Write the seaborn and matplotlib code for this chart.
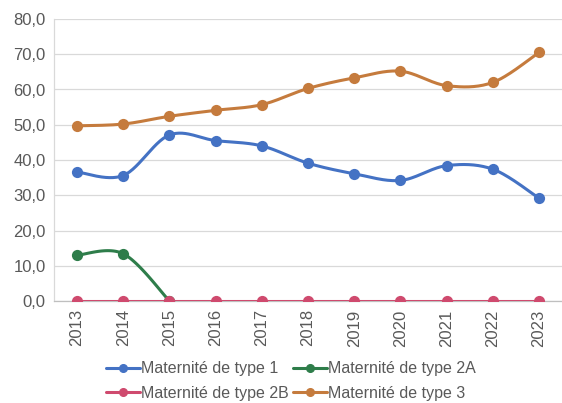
import numpy as np
import pandas as pd
import matplotlib
matplotlib.use("Agg")
import matplotlib.pyplot as plt
from matplotlib.lines import Line2D
import seaborn as sns

years = ["2013", "2014", "2015", "2016", "2017", "2018", "2019", "2020", "2021", "2022", "2023"]
type1 = [36.6, 35.6, 47.1, 45.5, 44.0, 39.1, 36.1, 34.2, 38.4, 37.4, 29.2]
type2a = [13.0, 13.4, 0.0, np.nan, np.nan, np.nan, np.nan, np.nan, np.nan, np.nan, np.nan]
type2b = [0.0, 0.0, 0.0, 0.0, 0.0, 0.0, 0.0, 0.0, 0.0, 0.0, 0.0]
type3 = [49.7, 50.2, 52.4, 54.1, 55.7, 60.3, 63.3, 65.2, 61.1, 62.0, 70.5]
yticks = [0, 10, 20, 30, 40, 50, 60, 70, 80]
series_names = ["Maternité de type 1", "Maternité de type 2A", "Maternité de type 2B", "Maternité de type 3"]
series_vals = [type1, type2a, type2b, type3]
colors = ["#4472C4", "#2E7D4A", "#CF4A6E", "#C57B3D"]

sns.set_theme(style="white")
plt.rcParams["font.family"] = ["Liberation Sans", "DejaVu Sans"]


def smooth(xs, ys, n=30):
    # Excel-like smoothed line (cubic Bezier with 1/6 tangents)
    xs = np.asarray(xs, float)
    ys = np.asarray(ys, float)
    ok = ~np.isnan(ys)
    xs, ys = xs[ok], ys[ok]
    P = np.column_stack([xs, ys])
    out = []
    m = len(P)
    for i in range(m - 1):
        p0 = P[i - 1] if i > 0 else P[i]
        p1 = P[i]
        p2 = P[i + 1]
        p3 = P[i + 2] if i + 2 < m else P[i + 1]
        c1 = p1 + (p2 - p0) / 6.0
        c2 = p2 - (p3 - p1) / 6.0
        t = np.linspace(0, 1, n)[:, None]
        seg = (1 - t) ** 3 * p1 + 3 * (1 - t) ** 2 * t * c1 + 3 * (1 - t) * t ** 2 * c2 + t ** 3 * p2
        out.append(seg if i == 0 else seg[1:])
    return np.vstack(out)


fig = plt.figure(figsize=(5.62, 4.03), dpi=100)
ax = fig.add_axes([54 / 562, 1 - 301 / 403, 508 / 562, 282 / 403])

x = np.arange(len(years))
for name, vals, c in zip(series_names, series_vals, colors):
    pts = smooth(x, vals)
    dense = pd.DataFrame({"x": pts[:, 0], "y": pts[:, 1]})
    sns.lineplot(data=dense, x="x", y="y", ax=ax, color=c, linewidth=2.2,
                 estimator=None, sort=False, zorder=3)
    df = pd.DataFrame({"x": x, "y": vals}).dropna()
    sns.scatterplot(data=df, x="x", y="y", ax=ax, color=c, s=65, edgecolor=c,
                    linewidth=0, zorder=4)

ax.set_xlim(-0.5, len(years) - 0.5)
ax.set_ylim(0, 80)
ax.set_yticks(yticks)
ax.set_yticklabels([f"{v:.1f}".replace(".", ",") for v in yticks], fontsize=12, color="#595959")
ax.set_xticks(x)
ax.set_xticklabels(years, rotation=90, fontsize=12, color="#595959")
ax.set_xlabel("")
ax.set_ylabel("")
ax.tick_params(axis="both", length=0, pad=6)
ax.yaxis.grid(True, color="#D9D9D9", linewidth=0.9)
ax.set_axisbelow(True)
for s in ["top", "right"]:
    ax.spines[s].set_visible(False)
ax.spines["left"].set_color("#D9D9D9")
ax.spines["left"].set_linewidth(0.9)
ax.spines["bottom"].set_color("#BFBFBF")
ax.spines["bottom"].set_linewidth(0.9)

handles = [Line2D([0], [0], color=c, lw=2.2, marker="o", markersize=5.5) for c in colors]
order = [0, 2, 1, 3]
leg = fig.legend([handles[i] for i in order], [series_names[i] for i in order],
                 ncol=2, loc="center", bbox_to_anchor=(291 / 562, 1 - 381 / 403), frameon=False,
                 fontsize=11.5, handlelength=2.1, handletextpad=0.08, columnspacing=0.25,
                 labelspacing=0.6, labelcolor="#595959")

fig.savefig("out.png", dpi=100, facecolor="white")
